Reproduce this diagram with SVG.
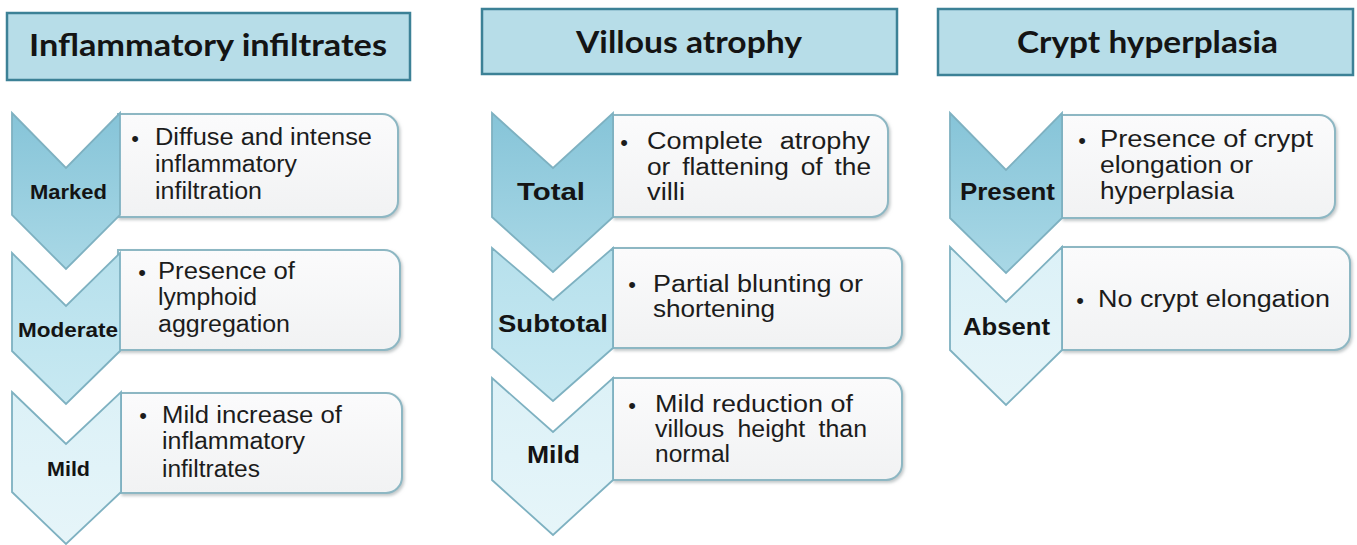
<svg xmlns="http://www.w3.org/2000/svg" width="1357" height="545" viewBox="0 0 1357 545">
<style>
.hdr{fill:#b7dde8;stroke:#3c8196;stroke-width:2.5}
.htxt{font-family:Lato,"Open Sans","Liberation Sans",sans-serif;font-weight:700;font-size:31px;fill:#141414}
.box{fill:url(#gbox);stroke:#8db7c3;stroke-width:2;filter:url(#sh)}
.ch{stroke:#7eb1c1;stroke-width:1.8;stroke-linejoin:miter}
.c1{fill:url(#g1)}
.c2{fill:url(#g2)}
.c3{fill:url(#g3)}
.lab{font-family:"Liberation Sans",Arial,sans-serif;font-weight:700;fill:#141414}
.body{font-family:"Liberation Sans",Arial,sans-serif;font-size:23px;fill:#1c1c1c}
.bul{font-family:"Liberation Sans",Arial,sans-serif;font-size:22px;fill:#1c1c1c;text-anchor:middle}
</style>
<defs>
<linearGradient id="g1" x1="0" y1="0" x2="0" y2="1"><stop offset="0" stop-color="#86c4d8"/><stop offset="1" stop-color="#a9d8e6"/></linearGradient>
<linearGradient id="g2" x1="0" y1="0" x2="0" y2="1"><stop offset="0" stop-color="#b6e0ec"/><stop offset="1" stop-color="#c8e9f2"/></linearGradient>
<linearGradient id="g3" x1="0" y1="0" x2="0" y2="1"><stop offset="0" stop-color="#dcf1f7"/><stop offset="1" stop-color="#e6f5f9"/></linearGradient>
<linearGradient id="gbox" x1="0" y1="0" x2="0" y2="1"><stop offset="0" stop-color="#fbfbfc"/><stop offset="1" stop-color="#f1f2f3"/></linearGradient>
<filter id="sh" x="-5%" y="-5%" width="115%" height="120%"><feDropShadow dx="1.5" dy="2" stdDeviation="1.5" flood-color="#9aa3a6" flood-opacity="0.6"/></filter>
</defs>

<g id="header-inflammatory">
<rect class="hdr" x="7" y="13" width="403" height="67"/>
<text class="htxt" x="29" y="56" textLength="358" lengthAdjust="spacingAndGlyphs">Inflammatory infiltrates</text>
</g>
<g id="header-villous">
<rect class="hdr" x="482" y="9" width="415" height="65"/>
<text class="htxt" x="576" y="53" textLength="226" lengthAdjust="spacingAndGlyphs">Villous atrophy</text>
</g>
<g id="header-crypt">
<rect class="hdr" x="938" y="9" width="415" height="66"/>
<text class="htxt" x="1017" y="53" textLength="261" lengthAdjust="spacingAndGlyphs">Crypt hyperplasia</text>
</g>

<!-- Column 1 -->
<g id="inf-marked">
<path class="box" d="M118,114 H382 A16,16 0 0 1 398,130 V201 A16,16 0 0 1 382,217 H118 Z"/>
<polygon class="ch c1" points="12,113 66,168 120,113 120,215 66,269 12,215"/>
<text class="lab" x="30" y="199" font-size="20" textLength="77" lengthAdjust="spacingAndGlyphs">Marked</text>
<text class="bul" x="135" y="146">•</text>
<text class="body" x="155" y="145" textLength="217" lengthAdjust="spacingAndGlyphs">Diffuse and intense</text>
<text class="body" x="155" y="172" textLength="142" lengthAdjust="spacingAndGlyphs">inflammatory</text>
<text class="body" x="155" y="199" textLength="107" lengthAdjust="spacingAndGlyphs">infiltration</text>
</g>
<g id="inf-moderate">
<path class="box" d="M118,250 H384 A16,16 0 0 1 400,266 V334 A16,16 0 0 1 384,350 H118 Z"/>
<polygon class="ch c2" points="12,253 66,306 120,253 120,351 66,404 12,351"/>
<text class="lab" x="18" y="337" font-size="20" textLength="100" lengthAdjust="spacingAndGlyphs">Moderate</text>
<text class="bul" x="142" y="280">•</text>
<text class="body" x="158" y="279" textLength="137" lengthAdjust="spacingAndGlyphs">Presence of</text>
<text class="body" x="158" y="305" textLength="99" lengthAdjust="spacingAndGlyphs">lymphoid</text>
<text class="body" x="158" y="332" textLength="132" lengthAdjust="spacingAndGlyphs">aggregation</text>
</g>
<g id="inf-mild">
<path class="box" d="M121,393 H386 A16,16 0 0 1 402,409 V477 A16,16 0 0 1 386,493 H121 Z"/>
<polygon class="ch c3" points="12,392 66,444 121,392 121,492 66,544 12,492"/>
<text class="lab" x="47" y="476" font-size="20" textLength="43" lengthAdjust="spacingAndGlyphs">Mild</text>
<text class="bul" x="143" y="423">•</text>
<text class="body" x="162" y="423" textLength="180" lengthAdjust="spacingAndGlyphs">Mild increase of</text>
<text class="body" x="162" y="449" textLength="143" lengthAdjust="spacingAndGlyphs">inflammatory</text>
<text class="body" x="162" y="477" textLength="98" lengthAdjust="spacingAndGlyphs">infiltrates</text>
</g>

<!-- Column 2 -->
<g id="vil-total">
<path class="box" d="M613,115 H872 A16,16 0 0 1 888,131 V201 A16,16 0 0 1 872,217 H613 Z"/>
<polygon class="ch c1" points="492,113 553,168 613,113 613,217 553,272 492,217"/>
<text class="lab" x="517" y="200" font-size="24" textLength="68" lengthAdjust="spacingAndGlyphs">Total</text>
<text class="bul" x="624" y="150">•</text>
<text class="body" x="647" y="149" word-spacing="8" textLength="223" lengthAdjust="spacingAndGlyphs">Complete atrophy</text>
<text class="body" x="647" y="175" word-spacing="4" textLength="224" lengthAdjust="spacingAndGlyphs">or flattening of the</text>
<text class="body" x="647" y="200" textLength="38" lengthAdjust="spacingAndGlyphs">villi</text>
</g>
<g id="vil-subtotal">
<path class="box" d="M613,248 H886 A16,16 0 0 1 902,264 V332 A16,16 0 0 1 886,348 H613 Z"/>
<polygon class="ch c2" points="492,248 553,300 613,248 613,348 553,401 492,348"/>
<text class="lab" x="498" y="332" font-size="24" textLength="110" lengthAdjust="spacingAndGlyphs">Subtotal</text>
<text class="bul" x="632" y="292">•</text>
<text class="body" x="653" y="292" textLength="210" lengthAdjust="spacingAndGlyphs">Partial blunting or</text>
<text class="body" x="653" y="317" textLength="122" lengthAdjust="spacingAndGlyphs">shortening</text>
</g>
<g id="vil-mild">
<path class="box" d="M613,378 H886 A16,16 0 0 1 902,394 V464 A16,16 0 0 1 886,480 H613 Z"/>
<polygon class="ch c3" points="492,378 553,432 613,378 613,480 553,535 492,480"/>
<text class="lab" x="527" y="463" font-size="24" textLength="53" lengthAdjust="spacingAndGlyphs">Mild</text>
<text class="bul" x="632" y="413">•</text>
<text class="body" x="655" y="412" textLength="198" lengthAdjust="spacingAndGlyphs">Mild reduction of</text>
<text class="body" x="655" y="437" word-spacing="6" textLength="212" lengthAdjust="spacingAndGlyphs">villous height than</text>
<text class="body" x="655" y="462" textLength="75" lengthAdjust="spacingAndGlyphs">normal</text>
</g>

<!-- Column 3 -->
<g id="cry-present">
<path class="box" d="M1062,115 H1319 A16,16 0 0 1 1335,131 V202 A16,16 0 0 1 1319,218 H1062 Z"/>
<polygon class="ch c1" points="950,113 1006,170 1062,113 1062,218 1006,273 950,218"/>
<text class="lab" x="960" y="200" font-size="24" textLength="95" lengthAdjust="spacingAndGlyphs">Present</text>
<text class="bul" x="1082" y="148">•</text>
<text class="body" x="1100" y="147" textLength="213" lengthAdjust="spacingAndGlyphs">Presence of crypt</text>
<text class="body" x="1100" y="173" textLength="153" lengthAdjust="spacingAndGlyphs">elongation or</text>
<text class="body" x="1100" y="199" textLength="134" lengthAdjust="spacingAndGlyphs">hyperplasia</text>
</g>
<g id="cry-absent">
<path class="box" d="M1062,247 H1334 A16,16 0 0 1 1350,263 V334 A16,16 0 0 1 1334,350 H1062 Z"/>
<polygon class="ch c3" points="950,247 1006,302 1062,247 1062,350 1006,405 950,350"/>
<text class="lab" x="963" y="335" font-size="24" textLength="87" lengthAdjust="spacingAndGlyphs">Absent</text>
<text class="bul" x="1080" y="308">•</text>
<text class="body" x="1098" y="307" textLength="232" lengthAdjust="spacingAndGlyphs">No crypt elongation</text>
</g>
</svg>
